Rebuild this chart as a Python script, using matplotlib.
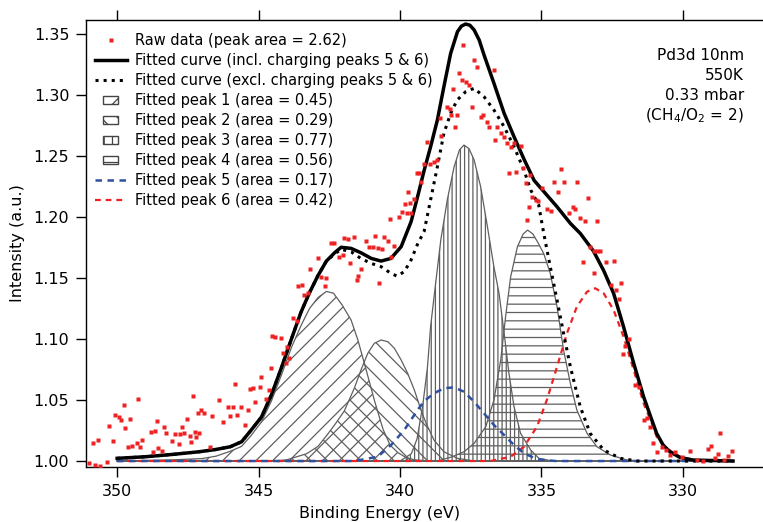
import numpy as np
import matplotlib
matplotlib.use("Agg")
import matplotlib.pyplot as plt
import matplotlib.patches as mpatches
from matplotlib.lines import Line2D
from matplotlib.legend_handler import HandlerPatch

# raw XPS data (binding energy, intensity)
raw_energy = [
    351.01, 350.87, 350.78, 350.66, 350.60, 350.35, 350.28, 350.13, 350.09, 349.95,
    349.86, 349.76, 349.72, 349.62, 349.56, 349.48, 349.30, 349.25, 349.19, 349.13,
    348.80, 348.72, 348.66, 348.60, 348.54, 348.42, 348.36, 348.28, 348.05, 347.95,
    347.83, 347.77, 347.69, 347.62, 347.54, 347.44, 347.38, 347.33, 347.24, 347.20,
    347.13, 347.10, 347.04, 346.93, 346.73, 346.64, 346.41, 346.25, 346.08, 346.02,
    345.90, 345.84, 345.75, 345.63, 345.49, 345.37, 345.31, 345.19, 345.11, 344.96,
    344.90, 344.72, 344.64, 344.55, 344.52, 344.41, 344.22, 344.13, 344.02, 343.98,
    343.93, 343.78, 343.63, 343.60, 343.48, 343.39, 343.27, 343.18, 342.91, 342.81,
    342.65, 342.62, 342.44, 342.32, 342.14, 342.03, 341.97, 341.83, 341.76, 341.64,
    341.52, 341.47, 341.38, 341.20, 341.08, 340.96, 340.88, 340.79, 340.73, 340.64,
    340.56, 340.41, 340.35, 340.32, 340.20, 340.02, 339.94, 339.82, 339.75, 339.73,
    339.65, 339.61, 339.49, 339.40, 339.32, 339.26, 339.16, 339.04, 338.94, 338.80,
    338.70, 338.59, 338.54, 338.33, 338.23, 338.19, 338.12, 338.07, 337.97, 337.91,
    337.80, 337.76, 337.68, 337.56, 337.44, 337.38, 337.29, 337.15, 337.06, 336.91,
    336.85, 336.68, 336.65, 336.56, 336.42, 336.32, 336.23, 336.15, 336.07, 335.97,
    335.91, 335.73, 335.64, 335.56, 335.52, 335.44, 335.40, 335.32, 335.20, 335.12,
    334.98, 334.81, 334.66, 334.57, 334.43, 334.31, 334.21, 334.04, 333.89, 333.80,
    333.74, 333.65, 333.53, 333.45, 333.37, 333.28, 333.16, 333.14, 333.04, 333.02,
    332.92, 332.71, 332.54, 332.43, 332.38, 332.27, 332.19, 332.12, 332.04, 331.92,
    331.68, 331.56, 331.39, 331.27, 331.15, 331.05, 330.91, 330.75, 330.60, 330.46,
    330.28, 330.04, 329.75, 329.51, 329.28, 329.10, 329.02, 328.87, 328.75, 328.69,
    328.55, 328.40, 328.28,
]
raw_intensity = [
    0.998, 1.0145, 0.997, 1.0172, 0.996, 0.999, 1.029, 1.0167, 1.0375, 1.0363,
    1.034, 1.046, 1.027, 1.0117, 1.0344, 1.0123, 1.0145, 1.0508, 1.0117, 1.0172,
    1.0235, 1.0076, 1.0249, 1.033, 1.0104, 1.0084, 1.0281, 1.0227, 1.0167, 1.0221,
    1.0139, 1.0221, 1.0281, 1.0227, 1.0342, 1.0208, 1.0158, 1.0533, 1.0238, 1.0200,
    1.0396, 1.0227, 1.0418, 1.0396, 1.0112, 1.0369, 1.050, 1.0322, 1.0445, 1.0369,
    1.044, 1.0631, 1.0377, 1.044, 1.0295, 1.0418, 1.0588, 1.0601, 1.0486, 1.0609,
    1.0691, 1.0505, 1.0582, 1.0760, 1.1025, 1.1014, 1.1006, 1.0883, 1.0806, 1.0937,
    1.0842, 1.117, 1.115, 1.1434, 1.1443, 1.136, 1.1374, 1.157, 1.1661, 1.1511,
    1.1437, 1.1503, 1.1789, 1.1789, 1.1675, 1.1689, 1.1825, 1.1817, 1.1620, 1.1839,
    1.1484, 1.1516, 1.1571, 1.1806, 1.1757, 1.1757, 1.1844, 1.1743, 1.1456, 1.1735,
    1.1833, 1.1806, 1.1984, 1.1675, 1.1762, 1.2003, 1.2041, 1.2107, 1.2030, 1.2207,
    1.2112, 1.2030, 1.2145, 1.2358, 1.2358, 1.2289, 1.2432, 1.2617, 1.2434, 1.2453,
    1.2467, 1.2809, 1.2664, 1.2899, 1.2883, 1.2836, 1.3047, 1.2740, 1.2836, 1.3178,
    1.3123, 1.3410, 1.3109, 1.3082, 1.2899, 1.3287, 1.3232, 1.2817, 1.2836, 1.2781,
    1.2735, 1.3205, 1.2631, 1.2735, 1.2691, 1.2653, 1.2609, 1.2358, 1.2576, 1.2604,
    1.2372, 1.2582, 1.2399, 1.2276, 1.1975, 1.2079, 1.2344, 1.2166, 1.2139, 1.2131,
    1.2235, 1.2063, 1.2052, 1.2290, 1.2207, 1.2391, 1.2290, 1.2030, 1.2085, 1.2063,
    1.2290, 1.1989, 1.1634, 1.1970, 1.2159, 1.1757, 1.1724, 1.1538, 1.1724, 1.1970,
    1.1724, 1.1634, 1.1443, 1.1639, 1.1402, 1.1325, 1.1456, 1.0874, 1.0943, 1.0997,
    1.0623, 1.0609, 1.0336, 1.0350, 1.0281, 1.0145, 1.0076, 1.0117, 1.0090, 1.0049,
    1.0076, 1.003, 1.0084, 1.0008, 1.0003, 1.0096, 1.0123, 1.0022, 1.0057, 1.0232,
    1.0008, 1.0041, 1.0084,
]

# fitted envelope including charging peaks 5 & 6
fit_energy = [
    350.0, 349.0, 348.0, 347.1, 346.5, 346.0, 345.6, 345.26, 344.9, 344.55,
    344.2, 343.84, 343.5, 343.2, 342.9, 342.6, 342.3, 342.08, 341.73, 341.38,
    341.02, 340.67, 340.32, 339.96, 339.61, 339.38, 339.15, 338.92, 338.68, 338.45,
    338.21, 337.97, 337.83, 337.68, 337.53, 337.38, 337.2, 337.03, 336.68, 336.32,
    335.97, 335.61, 335.26, 334.81, 334.45, 333.98, 333.63, 333.16, 332.8, 332.45,
    332.1, 331.74, 331.39, 331.1, 330.93, 330.7, 330.46, 330.11, 329.64, 328.23,
]
fit_incl = [
    1.0022, 1.0035, 1.0055, 1.0076, 1.0095, 1.0117, 1.0158, 1.0254, 1.036, 1.054,
    1.076, 1.100, 1.122, 1.138, 1.152, 1.164, 1.171, 1.1752, 1.1743, 1.1707,
    1.1661, 1.1639, 1.1661, 1.1757, 1.1961, 1.2166, 1.2380, 1.2576, 1.2795, 1.3068,
    1.3342, 1.3519, 1.3565, 1.3582, 1.3572, 1.3533, 1.3450, 1.3328, 1.3096, 1.2850,
    1.2658, 1.2470, 1.2300, 1.2180, 1.2084, 1.1948, 1.1866, 1.1720, 1.1560, 1.1374,
    1.1101, 1.0801, 1.0527, 1.0336, 1.0227, 1.0131, 1.0076, 1.0030, 1.0008, 1.0000,
]

# fitted envelope without charging peaks
excl_energy = [
    350.0, 349.0, 348.0, 347.1, 346.5, 346.0, 345.6, 345.26, 344.9, 344.55,
    344.2, 343.84, 343.5, 343.2, 342.9, 342.6, 342.3, 342.08, 341.73, 341.38,
    341.02, 340.67, 340.32, 340.11, 339.85, 339.61, 339.37, 339.15, 338.92, 338.68,
    338.45, 338.21, 337.98, 337.68, 337.38, 337.03, 336.68, 336.32, 335.97, 335.62,
    335.38, 335.1, 334.92, 334.69, 334.45, 334.22, 333.98, 333.63, 333.28, 332.8,
    332.21, 331.63, 328.23,
]
fit_excl = [
    1.0022, 1.0035, 1.0055, 1.0076, 1.0095, 1.0117, 1.0158, 1.0254, 1.036, 1.054,
    1.076, 1.100, 1.122, 1.138, 1.152, 1.164, 1.170, 1.1735, 1.1715, 1.1660,
    1.1620, 1.1593, 1.1538, 1.1516, 1.1552, 1.1648, 1.1784, 1.1880, 1.2140, 1.2412,
    1.2686, 1.2850, 1.2959, 1.3027, 1.3055, 1.2986, 1.2877, 1.2740, 1.2576, 1.2385,
    1.2221, 1.2100, 1.1866, 1.1593, 1.1320, 1.1047, 1.0773, 1.0445, 1.0227, 1.0090,
    1.0022, 1.0000, 1.0000,
]

# individual fitted components
p1_energy = [350.0, 348.0, 347.0, 346.5, 346.0, 345.6, 345.26, 344.9, 344.55, 344.2,
             343.84, 343.5, 343.2, 342.9, 342.6, 342.35, 342.05, 341.73, 341.49, 341.26,
             341.06, 340.91, 340.6, 340.35, 340.08, 339.8, 339.5, 339.0, 328.23]
p1_int = [1.000, 1.001, 1.002, 1.004, 1.008, 1.012, 1.021, 1.032, 1.049, 1.070,
          1.093, 1.111, 1.125, 1.134, 1.139, 1.1375, 1.128, 1.1156, 1.0992, 1.080,
          1.063, 1.050, 1.026, 1.013, 1.007, 1.003, 1.001, 1.000, 1.000]

p2_energy = [350.0, 344.5, 344.0, 343.3, 342.9, 342.59, 342.3, 341.97, 341.61, 341.38,
             341.14, 340.91, 340.67, 340.43, 340.2, 339.96, 339.73, 339.49, 339.26, 339.08,
             338.8, 338.45, 337.97, 337.38, 328.23]
p2_int = [1.000, 1.000, 1.001, 1.006, 1.012, 1.021, 1.030, 1.041, 1.060, 1.0746,
          1.0883, 1.0965, 1.0992, 1.0978, 1.0924, 1.0828, 1.0719, 1.058, 1.0418, 1.031,
          1.0172, 1.0076, 1.0022, 1.000, 1.000]

p3_energy = [350.0, 340.0, 339.6, 339.4, 339.2, 339.03, 338.92, 338.74, 338.56, 338.33,
             338.09, 337.9, 337.74, 337.56, 337.38, 337.15, 336.91, 336.68, 336.5, 336.32,
             336.15, 335.97, 335.74, 335.38, 335.09, 334.6, 328.23]
p3_int = [1.000, 1.000, 1.006, 1.018, 1.045, 1.077, 1.110, 1.146, 1.181, 1.214,
          1.241, 1.255, 1.259, 1.256, 1.2467, 1.2248, 1.192, 1.159, 1.1375, 1.1047,
          1.0719, 1.0445, 1.0227, 1.009, 1.0022, 1.000, 1.000]

p4_energy = [350.0, 339.0, 338.68, 338.15, 337.74, 337.38, 336.97, 336.68, 336.44, 336.27,
             336.09, 335.85, 335.65, 335.49, 335.3, 335.1, 334.92, 334.69, 334.45, 334.22,
             333.98, 333.75, 333.39, 333.04, 332.57, 331.98, 331.39, 328.23]
p4_int = [1.000, 1.000, 1.000, 1.0035, 1.0076, 1.0145, 1.0281, 1.050, 1.083, 1.118,
          1.151, 1.1757, 1.186, 1.1893, 1.186, 1.178, 1.170, 1.1539, 1.1265, 1.091,
          1.0637, 1.0418, 1.0227, 1.0117, 1.005, 1.0008, 1.000, 1.000]

p5_energy = [350.0, 341.61, 340.79, 340.32, 339.85, 339.38, 339.15, 338.8, 338.45, 338.09,
             337.74, 337.38, 337.03, 336.68, 336.32, 335.97, 335.62, 335.14, 334.5, 328.23]
p5_int = [1.000, 1.000, 1.0035, 1.013, 1.0254, 1.0418, 1.049, 1.0555, 1.0596, 1.0604,
          1.0568, 1.0486, 1.039, 1.0295, 1.0213, 1.0131, 1.0063, 1.0014, 1.000, 1.000]

p6_energy = [350.0, 336.8, 336.09, 335.62, 335.16, 334.81, 334.45, 334.1, 333.75, 333.39,
             333.1, 332.8, 332.45, 332.1, 331.74, 331.39, 331.1, 330.93, 330.58, 330.11,
             329.52, 328.23]
p6_int = [1.000, 1.000, 1.0035, 1.0117, 1.0281, 1.050, 1.0773, 1.1047, 1.1265, 1.1388,
          1.1416, 1.1374, 1.1238, 1.1019, 1.0746, 1.0473, 1.0309, 1.020, 1.0104, 1.0035,
          1.0003, 1.000]

labels = [
    "Raw data (peak area = 2.62)",
    "Fitted curve (incl. charging peaks 5 & 6)",
    "Fitted curve (excl. charging peaks 5 & 6)",
    "Fitted peak 1 (area = 0.45)",
    "Fitted peak 2 (area = 0.29)",
    "Fitted peak 3 (area = 0.77)",
    "Fitted peak 4 (area = 0.56)",
    "Fitted peak 5 (area = 0.17)",
    "Fitted peak 6 (area = 0.42)",
]
info_lines = ["Pd3d 10nm", "550K", "0.33 mbar", r"(CH$_4$/O$_2$ = 2)"]

plt.rcParams["font.family"] = ["DejaVu Sans"]
plt.rcParams["hatch.linewidth"] = 0.9
plt.rcParams["mathtext.default"] = "regular"

red = "#ee2222"
blue = "#2f4f9f"
gray = "#5f5f5f"

fig = plt.figure(figsize=(7.63, 5.22), dpi=100)
ax = fig.add_axes([86 / 763, 1 - 467 / 522, 677 / 763, 447 / 522])

peaks = [
    (p1_energy, p1_int, "//"),
    (p2_energy, p2_int, "\\\\"),
    (p3_energy, p3_int, "||||"),
    (p4_energy, p4_int, "--"),
]
for e, y, h in peaks:
    ax.fill_between(e, 1.0, y, facecolor="none", edgecolor=gray, hatch=h,
                    linewidth=0.9, zorder=2)

dash = (0, (2.6, 2.2))
ax.plot(p6_energy, p6_int, color=red, lw=1.6, ls=dash, zorder=3)
ax.plot(p5_energy, p5_int, color=blue, lw=1.8, ls=dash, zorder=3)
ax.plot(excl_energy, fit_excl, color="black", lw=2.2, ls=":", zorder=4)
ax.plot(fit_energy, fit_incl, color="black", lw=2.5, zorder=4)
ax.plot(raw_energy, raw_intensity, ls="none", marker="s", ms=3.0,
        mec="none", color=red, zorder=5)

ax.set_xlim(351.1, 327.17)
ax.set_ylim(0.9951, 1.3615)
ax.set_xticks([350, 345, 340, 335, 330])
ax.set_yticks(np.arange(1.00, 1.351, 0.05))
ax.yaxis.set_major_formatter(matplotlib.ticker.FormatStrFormatter("%.2f"))
ax.tick_params(direction="out", length=7, width=1, top=True, labelsize=11.5,
               pad=5)
ax.spines["right"].set_visible(False)
for s in ["left", "bottom", "top"]:
    ax.spines[s].set_linewidth(1.0)

ax.set_xlabel("Binding Energy (eV)", fontsize=11.5)
ax.xaxis.set_label_coords((380 - 86) / 677, -0.088)
ax.set_ylabel("Intensity (a.u.)", fontsize=11.5)
ax.yaxis.set_label_coords(-0.09, 0.5)

info_y = [55, 76, 96, 116]
for txt, yy in zip(info_lines, info_y):
    ax.text((744 - 86) / 677, (467 - yy) / 447, txt, ha="right", va="center",
            fontsize=11, transform=ax.transAxes)


def small_box(legend, orig_handle, xdescent, ydescent, width, height, fontsize):
    return mpatches.Rectangle((width * 0.26 - xdescent, -ydescent + 0.05 * height),
                              width * 0.45, height * 0.85)


handles = [
    Line2D([], [], ls="none", marker="s", ms=3.0, mec="none", color=red),
    Line2D([], [], color="black", lw=2.5),
    Line2D([], [], color="black", lw=2.2, ls=":"),
    mpatches.Patch(facecolor="white", edgecolor="#444444", hatch="//", lw=1.0),
    mpatches.Patch(facecolor="white", edgecolor="#444444", hatch="\\\\", lw=1.0),
    mpatches.Patch(facecolor="white", edgecolor="#444444", hatch="||", lw=1.0),
    mpatches.Patch(facecolor="white", edgecolor="#444444", hatch="--", lw=1.0),
    Line2D([], [], color=blue, lw=1.8, ls=dash),
    Line2D([], [], color=red, lw=1.6, ls=dash),
]
hmap = {h: HandlerPatch(patch_func=small_box) for h in handles[3:7]}
leg = ax.legend(handles, labels, loc="upper left",
                bbox_to_anchor=((95 - 86) / 677, (467 - 33) / 447),
                frameon=False, fontsize=10.5, handlelength=2.2,
                handletextpad=0.55, labelspacing=0.34, borderpad=0,
                borderaxespad=0, numpoints=1, handler_map=hmap)
leg.set_zorder(6)

fig.savefig("out.png", dpi=100)
